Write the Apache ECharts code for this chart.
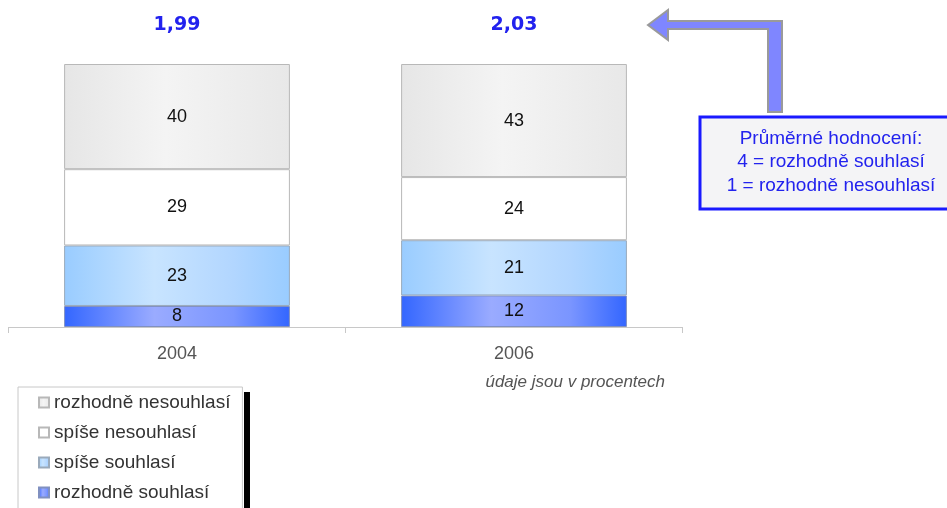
<!DOCTYPE html>
<html><head><meta charset="utf-8">
<script src="https://cdn.jsdelivr.net/npm/echarts@6/dist/echarts.min.js"></script>
<style>html,body{margin:0;padding:0;background:#fff}#c{width:947px;height:508px}</style>
</head><body><div id="c"></div>
<script>
var categories = ['2004', '2006'];
var averages = ['1,99', '2,03'];
var rozhodneSouhlasi = [8, 12];
var spiseSouhlasi = [23, 21];
var spiseNesouhlasi = [29, 24];
var rozhodneNesouhlasi = [40, 43];
var legendNames = ['rozhodně nesouhlasí', 'spíše nesouhlasí', 'spíše souhlasí', 'rozhodně souhlasí'];

function grad(stops) {
  return { type: 'linear', x: 0, y: 0, x2: 1, y2: 0, colorStops: stops };
}
var font = 'Arial, "Liberation Sans", sans-serif';
var lbl = { show: true, position: 'inside', fontSize: 18, color: '#111', fontFamily: font };
function ser(name, data, color, border) {
  return {
    name: name, type: 'bar', stack: 's', data: data, barWidth: '67%',
    itemStyle: { color: color, borderColor: border, borderWidth: 1 },
    label: lbl, emphasis: { disabled: true }
  };
}
var chart = echarts.init(document.getElementById('c'));
chart.setOption({
  animation: false,
  textStyle: { fontFamily: font },
  grid: { left: 8.5, right: 264.5, top: 64, bottom: 181 },
  xAxis: [{
    type: 'category', data: categories,
    axisLine: { lineStyle: { color: '#c8c8c8' } },
    axisTick: { show: true, length: 6, lineStyle: { color: '#c8c8c8' } },
    axisLabel: { fontSize: 18, color: '#555', margin: 18 }
  }, {
    type: 'category', data: averages, position: 'top',
    axisLine: { show: false }, axisTick: { show: false },
    axisLabel: { fontSize: 19, fontWeight: 'bold', color: '#2222ee', margin: 29, fontFamily: '"DejaVu Sans", Verdana, sans-serif' }
  }],
  yAxis: { type: 'value', min: 0, max: 100, show: false },
  legend: {
    orient: 'vertical', left: 18, top: 387, height: 140,
    data: legendNames,
    itemWidth: 10, itemHeight: 10, itemGap: 11, icon: 'rect',
    padding: [6, 12, 8, 20],
    textStyle: { fontSize: 19, color: '#333', fontFamily: font },
    backgroundColor: '#fff', borderColor: '#c8c8c8', borderWidth: 1
  },
  series: [
    ser('rozhodně souhlasí', rozhodneSouhlasi,
      grad([{ offset: 0, color: '#3366ff' }, { offset: 0.4, color: '#9aabff' }, { offset: 0.75, color: '#7a95ff' }, { offset: 1, color: '#3366ff' }]), '#8090c0'),
    ser('spíše souhlasí', spiseSouhlasi,
      grad([{ offset: 0, color: '#99ccff' }, { offset: 0.4, color: '#c8e4ff' }, { offset: 0.75, color: '#b2d6ff' }, { offset: 1, color: '#99ccff' }]), '#9aaabb'),
    ser('spíše nesouhlasí', spiseNesouhlasi, '#ffffff', '#b8b8b8'),
    ser('rozhodně nesouhlasí', rozhodneNesouhlasi,
      grad([{ offset: 0, color: '#e6e6e6' }, { offset: 0.45, color: '#f4f4f4' }, { offset: 1, color: '#e8e8e8' }]), '#b8b8b8')
  ],
  graphic: [
    { type: 'rect', z: -1, shape: { x: 244, y: 392, width: 6, height: 130 }, style: { fill: '#000' } },
    { type: 'text', right: 947 - 665, top: 374,
      style: { text: 'údaje jsou v procentech', font: 'italic 17px ' + font, fill: '#555' } },
    { type: 'polygon', z: 10,
      shape: { points: [[648, 25], [668, 10], [668, 21], [782, 21], [782, 112], [768, 112], [768, 29], [668, 29], [668, 40]] },
      style: { fill: '#7f86ff', stroke: '#9a9a9a', lineWidth: 2 } },
    { type: 'rect', z: 10,
      shape: { x: 700, y: 117, width: 260, height: 92 },
      style: { fill: '#f4f4f6', stroke: '#1a1aff', lineWidth: 3 } },
    { type: 'text', z: 11, x: 831, y: 127,
      style: { text: 'Průměrné hodnocení:\n4 = rozhodně souhlasí\n1 = rozhodně nesouhlasí',
        font: '19px ' + font, fill: '#2222ee', align: 'center', lineHeight: 23.5 } }
  ]
});
</script></body></html>
